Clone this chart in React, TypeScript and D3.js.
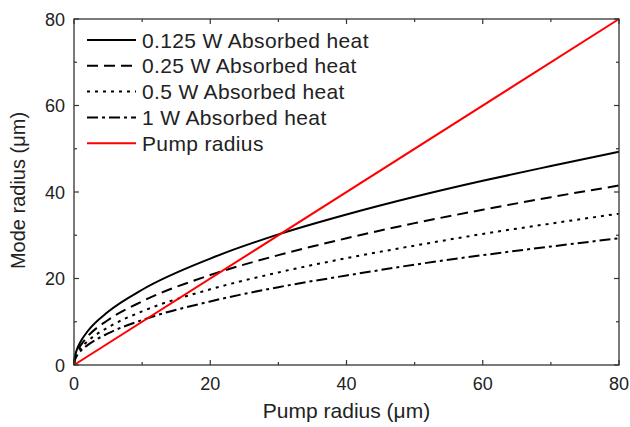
import React from "react";
import * as d3 from "d3";

const pumpRadius = [0, 0.1, 0.25, 0.5, 1, 2, 5, 10, 20, 30, 40, 50, 60, 70, 80];
const mode0125 = [0, 1.7, 2.7, 3.9, 5.5, 7.8, 12.3, 17.4, 24.6, 30.2, 34.8, 38.9, 42.6, 46.0, 49.3];
const mode025 = [0, 1.5, 2.3, 3.3, 4.6, 6.6, 10.4, 14.7, 20.8, 25.4, 29.3, 32.8, 35.9, 38.8, 41.5];
const mode05 = [0, 1.2, 2.0, 2.8, 3.9, 5.5, 8.7, 12.4, 17.5, 21.4, 24.7, 27.6, 30.3, 32.7, 35.0];
const mode1 = [0, 1.0, 1.6, 2.3, 3.3, 4.6, 7.3, 10.4, 14.7, 18.0, 20.7, 23.2, 25.4, 27.4, 29.3];
const pumpLineX = [0, 80];
const pumpLineY = [0, 80];
const seriesNames = [
  "0.125 W Absorbed heat",
  "0.25 W Absorbed heat",
  "0.5 W Absorbed heat",
  "1 W Absorbed heat",
  "Pump radius",
];
const xTicks = [0, 20, 40, 60, 80];
const yTicks = [0, 20, 40, 60, 80];

export default function App() {
  const W = 630, H = 427;
  const left = 74, right = 619, top = 19, bottom = 365;
  const x = d3.scaleLinear().domain([0, 80]).range([left, right]);
  const y = d3.scaleLinear().domain([0, 80]).range([bottom, top]);
  const line = d3
    .line<[number, number]>()
    .x((d) => x(d[0]))
    .y((d) => y(d[1]))
    .curve(d3.curveMonotoneX);

  const series = [
    { vals: mode0125, dash: "none", color: "#000" },
    { vals: mode025, dash: "11,6", color: "#000" },
    { vals: mode05, dash: "3,5", color: "#000" },
    { vals: mode1, dash: "11,4,3,4", color: "#000" },
  ];
  const font = "'Liberation Sans', Arial, sans-serif";
  const minor = d3.range(0, 81, 10);

  return (
    <svg width={W} height={H} style={{ position: "absolute", left: 0, top: 0, background: "#fff" }}>
      <rect x={0} y={0} width={W} height={H} fill="#fff" />
      {series.map((s, i) => (
        <path
          key={i}
          d={line(pumpRadius.map((p, j) => [p, s.vals[j]] as [number, number])) || ""}
          fill="none"
          stroke={s.color}
          strokeWidth={2}
          strokeDasharray={s.dash}
        />
      ))}
      <path
        d={line(pumpLineX.map((p, j) => [p, pumpLineY[j]] as [number, number])) || ""}
        fill="none"
        stroke="#ff0000"
        strokeWidth={2}
      />
      <rect x={left} y={top} width={right - left} height={bottom - top} fill="none" stroke="#333" strokeWidth={1.3} />
      {minor.map((v) => {
        const len = v % 20 === 0 ? 5 : 3;
        return (
          <g key={v} stroke="#333" strokeWidth={1.2}>
            <line x1={x(v)} x2={x(v)} y1={bottom} y2={bottom - len} />
            <line x1={x(v)} x2={x(v)} y1={top} y2={top + len} />
            <line x1={left} x2={left + len} y1={y(v)} y2={y(v)} />
            <line x1={right} x2={right - len} y1={y(v)} y2={y(v)} />
          </g>
        );
      })}
      {xTicks.map((v) => (
        <text key={v} x={x(v)} y={390} textAnchor="middle" fontSize={18} fontFamily={font} fill="#222">
          {v}
        </text>
      ))}
      {yTicks.map((v) => (
        <text key={v} x={65} y={y(v) + 6.5} textAnchor="end" fontSize={18} fontFamily={font} fill="#222">
          {v}
        </text>
      ))}
      <text x={346.5} y={418} textAnchor="middle" fontSize={21} fontFamily={font} fill="#222">
        Pump radius (μm)
      </text>
      <text
        transform={`translate(25,190.5) rotate(-90)`}
        textAnchor="middle"
        fontSize={20}
        fontFamily={font}
        fill="#222"
      >
        Mode radius (μm)
      </text>
      {seriesNames.map((name, i) => {
        const yy = 40 + i * 25.8;
        const dash = i < 4 ? series[i].dash : "none";
        const col = i < 4 ? "#000" : "#ff0000";
        return (
          <g key={name}>
            <line x1={87} x2={136} y1={yy} y2={yy} stroke={col} strokeWidth={2} strokeDasharray={dash} />
            <text x={142} y={yy + 7.5} fontSize={21} letterSpacing={0.35} fontFamily={font} fill="#222">
              {name}
            </text>
          </g>
        );
      })}
    </svg>
  );
}
